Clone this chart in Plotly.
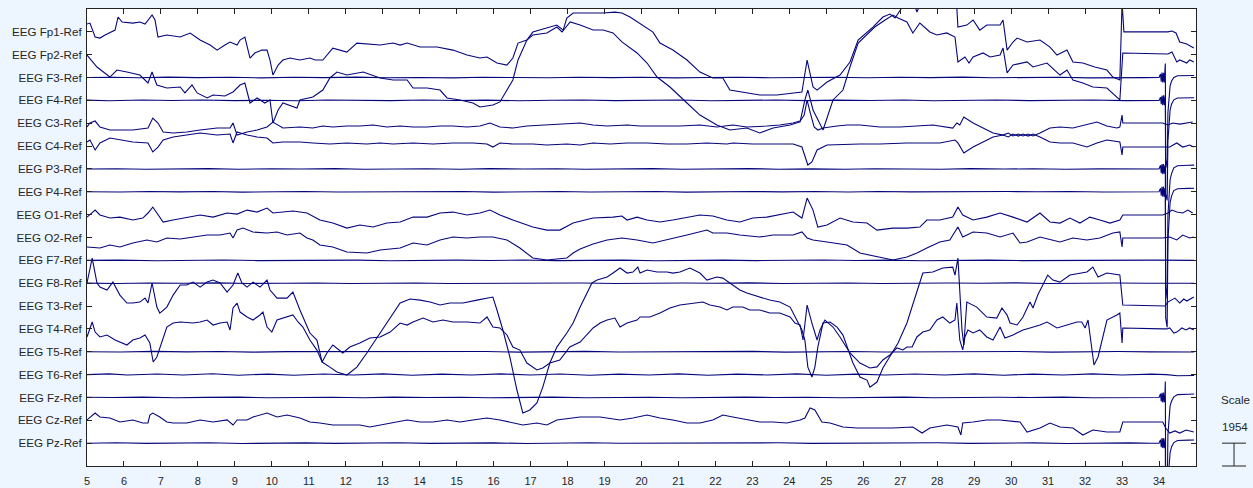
import plotly.graph_objects as go

# ---------------- data ----------------
SCALE = 1954  # microvolts per channel spacing (scale bar)
CHANNELS = ["EEG Fp1-Ref", "EEG Fp2-Ref", "EEG F3-Ref", "EEG F4-Ref", "EEG C3-Ref",
            "EEG C4-Ref", "EEG P3-Ref", "EEG P4-Ref", "EEG O1-Ref", "EEG O2-Ref",
            "EEG F7-Ref", "EEG F8-Ref", "EEG T3-Ref", "EEG T4-Ref", "EEG T5-Ref",
            "EEG T6-Ref", "EEG Fz-Ref", "EEG Cz-Ref", "EEG Pz-Ref"]
X_TICKS = list(range(5, 35))
X_RANGE = [5, 35]

# (time s, amplitude uV) samples
FP1 = [(5.00,670),(5.08,750),(5.22,-440),(5.35,-530),(5.49,-270),(5.68,-20),(5.76,150),(5.84,1270),(5.95,840),(6.24,750),(6.43,840),(6.57,670),(6.65,1010),(6.76,1440),(6.84,1010),(6.92,-440),(7.16,-270),(7.38,-360),(7.52,-440),(7.79,-100),(8.06,-700),(8.33,-1130),(8.52,-1560),(8.73,-1130),(8.87,-870),(9.06,-1130),(9.14,-700),(9.27,-440),(9.41,-2240),(9.54,-1810),(9.73,-1560),(9.87,-1560),(9.95,-2410),(10.03,-3690),(10.17,-2840),(10.30,-2410),(10.49,-2240),(10.76,-2410),(11.03,-2240),(11.17,-2410),(11.38,-2410),(11.65,-1390),(11.84,-1560),(12.03,-1730),(12.30,-960),(12.65,-1040),(12.93,-1130),(13.28,-960),(13.47,-1130),(13.66,-960),(14.01,-1300),(14.47,-1300),(14.90,-1560),(15.28,-1980),(15.63,-2240),(15.82,-2150),(16.09,-2670),(16.36,-2840),(16.52,-2240),(16.66,-960),(16.90,-700),(17.06,-20),(17.44,320),(17.71,580),(17.88,150),(17.98,1180),(18.15,1610),(18.34,1610),(18.61,1610),(18.96,1610),(19.28,1690),(19.47,1610),(19.69,1270),(20.04,580),(20.31,-20),(20.50,-960),(20.85,-1560),(21.23,-2410),(21.58,-3440),(21.93,-3950),(22.20,-3950),(22.39,-4980),(22.74,-5150),(23.20,-5400),(23.66,-5400),(24.10,-5230),(24.34,-5150),(24.48,-2410),(24.64,-4720),(24.75,-4980),(25.02,-4290),(25.37,-3690),(25.64,-2580),(25.86,-700),(26.07,-100),(26.26,410),(26.53,1270),(26.72,1520),(26.86,1180),(26.99,1860),(27.18,2720),(27.32,2980),(27.45,1690),(27.59,2720),(27.94,3570),(28.34,3570),(28.51,3150),(28.56,410),(28.80,580),(28.97,1010),(29.15,150),(29.34,580),(29.70,580),(29.78,1010),(29.89,-1560),(30.05,-870),(30.16,-530),(30.43,-870),(30.78,-700),(31.05,-1300),(31.24,-1980),(31.51,-1560),(31.67,-2580),(31.94,-2670),(32.26,-3010),(32.59,-3270),(32.75,-3860),(32.94,-4120),(33.00,2500),(33.05,0),(34.24,0),(34.35,70),(34.46,-100),(34.56,-870),(34.75,-1040),(34.94,-1390)]

FP2 = [(5.00,-30),(5.27,-1050),(5.62,-1910),(5.81,-1310),(6.08,-1480),(6.43,-1740),(6.65,-2420),(6.76,-1480),(6.89,-2590),(7.16,-2850),(7.52,-2760),(7.65,-3270),(7.84,-2590),(7.98,-3270),(8.25,-3700),(8.41,-3450),(8.73,-3530),(8.95,-3190),(9.14,-2590),(9.27,-2420),(9.41,-4130),(9.60,-3700),(9.81,-4130),(9.95,-3870),(10.03,-5840),(10.17,-4730),(10.30,-4130),(10.57,-4480),(10.68,-4560),(10.76,-3870),(11.11,-3620),(11.38,-3020),(11.57,-1990),(11.76,-1480),(12.03,-1740),(12.47,-1480),(12.74,-1740),(12.93,-1990),(13.28,-2160),(13.66,-2160),(13.82,-2850),(14.20,-2850),(14.55,-3020),(14.74,-3700),(15.09,-3870),(15.44,-4130),(15.63,-4470),(15.98,-4300),(16.17,-4040),(16.36,-3020),(16.52,-2160),(16.66,-450),(16.90,1260),(17.06,1680),(17.44,1860),(17.71,2370),(17.85,1940),(18.07,2800),(18.34,2540),(18.69,2110),(18.96,2110),(19.23,1860),(19.47,1090),(19.88,150),(20.15,-710),(20.42,-1910),(20.77,-2760),(21.23,-4130),(21.58,-5160),(22.04,-6010),(22.39,-6440),(22.85,-6270),(23.20,-6690),(23.56,-6270),(24.02,-6010),(24.29,-5750),(24.42,-3870),(24.50,-3020),(24.64,-4730),(24.91,-6440),(25.18,-3870),(25.45,-3020),(25.64,-1050),(25.86,1000),(26.07,1680),(26.31,2370),(26.59,2970),(26.80,3390),(26.94,3140),(27.18,2800),(27.34,1860),(27.53,2710),(27.80,1940),(27.99,1680),(28.26,1860),(28.48,1510),(28.56,-620),(28.75,-200),(28.86,-710),(28.97,-200),(29.24,150),(29.43,-200),(29.70,-30),(29.78,570),(29.89,-1560),(30.05,-880),(30.43,-620),(30.59,-1050),(30.97,-710),(31.32,-1740),(31.51,-1310),(31.67,-2160),(31.94,-2420),(32.21,-2760),(32.59,-2850),(32.86,-3620),(32.94,-3870),(33.02,150),(34.24,60),(34.35,230),(34.48,-620),(34.56,-450),(34.75,-710),(34.83,-450),(34.94,-620)]

F3 = [(5.0,0),(5.7,30),(6.4,-20),(7.2,40),(8.0,-10),(8.9,30),(9.7,-30),(10.6,20),(11.4,-10),(12.3,40),(13.1,-20),(14.0,10),(14.9,-30),(15.7,30),(16.6,0),(17.5,-20),(18.3,30),(19.2,-10),(20.0,20),(20.9,-30),(21.8,10),(22.6,30),(23.5,-20),(24.4,0),(25.2,30),(26.1,-20),(27.0,20),(27.8,-10),(28.7,40),(29.5,-20),(30.4,10),(31.3,30),(32.1,-30),(33.0,20),(33.6,-10),(34.0,0),(34.04,300),(34.06,-350),(34.08,420),(34.10,-430),(34.12,400),(34.14,-420),(34.16,250),(34.17,1200),(34.18,-7000),(34.22,-7700),(34.24,-3000),(34.27,-1300),(34.30,-700),(34.34,-300),(34.40,0),(34.50,150),(34.65,170),(34.80,150),(34.95,170)]

F4 = [(5.0,20),(5.6,-30),(6.5,30),(7.3,-10),(8.1,40),(9.0,-20),(9.8,10),(10.7,-30),(11.5,30),(12.4,0),(13.2,-20),(14.1,30),(15.0,-10),(15.8,20),(16.7,-30),(17.6,10),(18.4,40),(19.3,-20),(20.1,0),(21.0,30),(21.9,-30),(22.7,10),(23.6,30),(24.5,-20),(25.3,20),(26.2,-10),(27.1,30),(27.9,-30),(28.8,10),(29.6,40),(30.5,-20),(31.4,0),(32.2,30),(33.1,-20),(33.7,20),(34.0,0),(34.04,280),(34.06,-330),(34.08,400),(34.10,-420),(34.12,430),(34.14,-400),(34.16,260),(34.17,450),(34.18,-8000),(34.22,-8550),(34.24,-3500),(34.27,-1600),(34.30,-800),(34.34,-300),(34.40,50),(34.50,200),(34.65,230),(34.80,220),(34.95,230)]

C3 = [(5.00,-320),(5.08,20),(5.22,190),(5.35,-320),(5.62,-580),(6.24,-580),(6.65,-410),(6.78,440),(6.92,20),(7.06,-750),(7.33,-840),(7.70,-750),(8.06,-580),(8.52,-410),(8.87,-410),(8.95,20),(9.06,-1010),(9.33,-750),(9.60,-580),(9.87,-320),(10.03,100),(10.30,-410),(10.76,-320),(11.11,-410),(11.38,-240),(11.65,-320),(12.03,-240),(12.38,-240),(12.74,-150),(13.11,-320),(13.47,-240),(13.82,-320),(14.20,-320),(14.55,-240),(14.90,-240),(15.28,-320),(15.63,-240),(15.90,20),(16.17,-320),(16.52,-410),(16.90,-240),(17.44,-150),(17.98,-70),(18.34,20),(18.69,-150),(19.07,-240),(19.61,-150),(19.96,-240),(20.50,-240),(21.04,-240),(21.58,-150),(22.04,-320),(22.47,-150),(22.85,-320),(23.39,-240),(23.74,-150),(24.10,20),(24.29,190),(24.40,700),(24.48,1980),(24.56,960),(24.67,-320),(24.77,-580),(24.91,-410),(25.29,-240),(25.56,-150),(25.91,-150),(26.45,-320),(26.99,-320),(27.53,-240),(27.88,-150),(28.42,-410),(28.53,20),(28.61,-150),(28.72,530),(28.97,20),(29.24,-410),(29.51,-840),(29.78,-1010),(29.92,-840),(30.05,-1090),(30.19,-920),(30.32,-1090),(30.46,-920),(30.59,-1090),(30.78,-840),(31.05,-410),(31.32,-320),(31.67,-410),(32.05,-150),(32.32,100),(32.59,-240),(32.86,-410),(32.94,-320),(33.00,700),(33.02,20),(34.10,20),(34.24,-150),(34.37,20),(34.56,-70),(34.75,20),(34.91,100)]

C4 = [(5.00,350),(5.08,520),(5.22,-330),(5.35,270),(5.62,690),(6.24,350),(6.65,270),(6.78,-500),(6.92,-80),(7.06,520),(7.33,780),(7.70,950),(8.06,1120),(8.52,950),(8.87,1030),(8.95,270),(9.06,1210),(9.33,950),(9.60,780),(9.87,690),(10.03,270),(10.30,350),(10.76,350),(11.11,270),(11.57,180),(12.03,270),(12.57,180),(12.93,270),(13.28,180),(13.82,270),(14.36,180),(14.90,270),(15.44,270),(15.82,180),(15.98,-80),(16.17,270),(16.52,180),(17.06,180),(17.44,90),(17.98,180),(18.34,90),(18.69,270),(19.15,180),(19.61,270),(20.15,270),(20.69,180),(21.23,180),(21.77,270),(22.31,180),(22.47,270),(23.01,180),(23.56,180),(24.10,180),(24.34,-80),(24.42,-760),(24.50,-1620),(24.61,-1360),(24.75,-330),(25.02,90),(25.56,180),(25.91,180),(26.45,180),(27.18,270),(27.72,270),(28.07,270),(28.48,520),(28.56,270),(28.72,-590),(28.97,-80),(29.24,350),(29.51,780),(29.78,950),(29.92,780),(30.05,1030),(30.19,860),(30.32,1030),(30.46,860),(30.59,1030),(30.78,780),(31.05,350),(31.32,270),(31.67,270),(32.05,-80),(32.32,270),(32.59,520),(32.94,350),(33.00,-760),(33.02,-80),(34.16,-80),(34.29,-80),(34.48,270),(34.64,-80),(34.83,90),(34.94,-80)]

P3 = [(5.0,-10),(5.8,20),(6.6,-30),(7.4,10),(8.3,30),(9.1,-20),(10.0,20),(10.8,-10),(11.7,30),(12.5,-30),(13.4,0),(14.2,20),(15.1,-20),(15.9,30),(16.8,-10),(17.7,20),(18.5,-30),(19.4,10),(20.3,30),(21.1,-20),(22.0,0),(22.9,30),(23.7,-20),(24.6,10),(25.5,-30),(26.3,20),(27.2,0),(28.1,-20),(28.9,30),(29.8,-10),(30.6,20),(31.5,-30),(32.4,10),(33.2,20),(33.8,-10),(34.0,0),(34.04,320),(34.06,-360),(34.08,410),(34.10,-440),(34.12,420),(34.14,-400),(34.16,240),(34.17,350),(34.18,-10000),(34.22,-11100),(34.24,-4000),(34.27,-1800),(34.30,-900),(34.34,-400),(34.40,100),(34.50,280),(34.65,330),(34.80,320),(34.95,330)]

P4 = [(5.0,10),(5.9,-20),(6.7,30),(7.5,-10),(8.4,20),(9.2,-30),(10.1,10),(10.9,30),(11.8,-20),(12.6,0),(13.5,30),(14.3,-10),(15.2,20),(16.0,-30),(16.9,10),(17.8,30),(18.6,-20),(19.5,0),(20.4,20),(21.2,-30),(22.1,10),(23.0,30),(23.8,-10),(24.7,20),(25.6,-20),(26.4,30),(27.3,-10),(28.2,10),(29.0,-30),(29.9,20),(30.7,0),(31.6,30),(32.5,-20),(33.3,10),(33.8,-10),(34.0,0),(34.04,300),(34.06,-340),(34.08,430),(34.10,-410),(34.12,440),(34.14,-420),(34.16,260),(34.17,300),(34.18,-10800),(34.22,-11600),(34.24,-4200),(34.27,-1900),(34.30,-900),(34.34,-350),(34.40,100),(34.50,260),(34.65,300),(34.80,290),(34.95,300)]

O1 = [(5.00,-210),(5.22,390),(5.35,-30),(5.62,-290),(5.89,-210),(6.24,-460),(6.51,-290),(6.65,140),(6.78,650),(6.89,140),(7.06,-630),(7.33,-460),(7.70,-210),(8.06,-30),(8.41,-210),(8.79,140),(9.06,50),(9.33,390),(9.60,220),(9.87,560),(10.03,140),(10.30,220),(10.57,310),(10.95,140),(11.30,-460),(11.65,-720),(12.03,-1150),(12.38,-890),(12.74,-1060),(13.11,-720),(13.47,-630),(13.82,-210),(14.20,-210),(14.55,140),(14.90,220),(15.28,-30),(15.63,140),(15.90,390),(16.17,-30),(16.52,-460),(17.06,-1060),(17.44,-1320),(17.79,-1320),(18.15,-720),(18.69,-290),(19.23,-210),(19.47,-120),(19.61,-460),(19.88,-210),(20.15,-460),(20.50,-630),(20.85,-460),(21.23,-210),(21.58,-30),(21.93,-120),(22.31,-460),(22.66,-630),(23.01,-290),(23.39,-210),(23.74,-30),(24.10,220),(24.34,-290),(24.48,1420),(24.64,390),(24.77,-1060),(25.02,-890),(25.37,-290),(25.72,-630),(26.10,-720),(26.37,-1320),(26.80,-1150),(27.18,-1150),(27.53,-1060),(27.72,-460),(28.07,-460),(28.42,-210),(28.56,650),(28.69,-30),(28.97,-460),(29.34,-210),(29.70,140),(30.05,-210),(30.43,-630),(30.78,140),(31.05,-630),(31.32,-720),(31.59,-290),(31.86,-720),(32.13,-210),(32.40,-460),(32.67,-720),(32.94,-460),(33.02,-30),(34.10,-30),(34.24,140),(34.35,390),(34.48,220),(34.64,140),(34.78,390),(34.91,140)]

O2 = [(5.00,-810),(5.35,-900),(5.62,-640),(5.89,-810),(6.24,-470),(6.62,-210),(6.89,-380),(7.16,-40),(7.52,-130),(7.87,40),(8.25,210),(8.60,210),(8.87,380),(8.95,-40),(9.06,640),(9.22,810),(9.49,470),(9.87,380),(10.14,470),(10.41,210),(10.76,380),(10.95,-40),(11.11,-210),(11.30,-640),(11.65,-810),(12.03,-1240),(12.57,-1330),(12.93,-1070),(13.47,-900),(13.82,-470),(14.20,-640),(14.55,-210),(14.90,40),(15.28,-40),(15.63,40),(15.98,40),(16.36,-210),(16.71,-900),(17.06,-1750),(17.44,-1920),(17.98,-1750),(18.15,-1330),(18.34,-980),(18.69,-560),(19.07,-210),(19.47,-40),(19.88,-210),(20.31,-470),(20.69,-210),(21.23,210),(21.77,640),(21.93,380),(22.31,380),(22.66,210),(23.20,40),(23.56,210),(24.10,210),(24.34,470),(24.48,-40),(24.64,-210),(25.02,-380),(25.56,-640),(25.91,-1330),(26.45,-1670),(26.80,-1920),(27.18,-1670),(27.45,-1330),(27.72,-900),(28.07,-380),(28.34,-210),(28.56,900),(28.69,40),(28.97,470),(29.34,380),(29.70,40),(30.05,380),(30.24,-470),(30.43,-380),(30.78,40),(31.32,-380),(31.67,-40),(32.05,-210),(32.40,-40),(32.75,380),(32.94,470),(33.00,-810),(33.02,-40),(34.10,-40),(34.29,40),(34.48,-210),(34.64,210),(34.83,-40),(34.94,40)]

F7 = [(5.0,0),(5.9,20),(6.9,-30),(7.8,10),(8.7,30),(9.6,-20),(10.5,10),(11.4,-10),(12.3,20),(13.2,-30),(14.1,10),(15.0,20),(15.9,-10),(16.8,30),(17.7,-20),(18.6,0),(19.5,20),(20.4,-30),(21.3,10),(22.2,20),(23.1,-20),(24.0,10),(24.9,30),(25.8,-10),(26.7,20),(27.6,-30),(28.5,10),(29.4,20),(30.3,-20),(31.2,0),(32.1,30),(33.0,-10),(33.9,20),(34.95,0)]

F8 = [(5.0,10),(5.8,-20),(6.7,20),(7.6,-10),(8.5,30),(9.4,-20),(10.3,0),(11.2,20),(12.1,-30),(13.0,10),(13.9,20),(14.8,-20),(15.7,0),(16.6,30),(17.5,-10),(18.4,20),(19.3,-30),(20.2,10),(21.1,20),(22.0,-10),(22.9,30),(23.8,-20),(24.7,0),(25.6,20),(26.5,-30),(27.4,10),(28.3,20),(29.2,-10),(30.1,30),(31.0,-20),(31.9,10),(32.8,20),(33.7,-10),(34.95,0)]

T3 = [(5.00,1970),(5.14,4100),(5.27,1970),(5.35,1620),(5.54,1370),(5.70,2050),(5.89,940),(6.08,260),(6.24,260),(6.43,340),(6.57,680),(6.65,260),(6.76,1970),(6.89,-90),(6.97,-600),(7.16,-90),(7.33,940),(7.52,1800),(7.70,1800),(7.87,2050),(8.06,1620),(8.25,2050),(8.41,2220),(8.60,1970),(8.79,1200),(8.95,1800),(9.08,2820),(9.19,1970),(9.33,1620),(9.49,2050),(9.68,1620),(9.87,2220),(9.95,1370),(10.14,680),(10.41,680),(10.57,1200),(10.76,-340),(11.03,-2310),(11.22,-2910),(11.36,-4790),(11.57,-5220),(11.76,-5640),(12.03,-5900),(12.30,-5220),(12.57,-4020),(12.84,-2740),(13.20,-940),(13.47,260),(13.74,600),(14.01,510),(14.28,340),(14.55,90),(14.82,260),(15.17,260),(15.55,510),(15.82,680),(15.98,770),(16.09,-340),(16.25,-2050),(16.44,-4360),(16.63,-7180),(16.79,-9150),(16.98,-8890),(17.17,-8290),(17.33,-6930),(17.52,-4870),(17.71,-3510),(17.98,-2310),(18.15,-1450),(18.34,-90),(18.52,1110),(18.66,1970),(18.80,2220),(19.07,2480),(19.23,2820),(19.42,3250),(19.61,2820),(19.77,2910),(19.90,3330),(19.96,2820),(20.15,3080),(20.42,2910),(20.69,2910),(20.85,2820),(21.04,2910),(21.31,3250),(21.58,2820),(21.77,2220),(22.04,2480),(22.20,2390),(22.39,1970),(22.66,1370),(22.85,1110),(23.20,770),(23.47,510),(23.74,340),(24.02,-90),(24.20,-1200),(24.34,-2050),(24.42,-2910),(24.50,-5220),(24.61,-6070),(24.69,-5220),(24.77,-3510),(24.91,-1450),(25.10,-1370),(25.29,-1800),(25.45,-2480),(25.56,-3510),(25.72,-4870),(25.91,-6070),(26.10,-6330),(26.18,-6930),(26.37,-6500),(26.53,-5300),(26.72,-4360),(26.94,-3160),(27.18,-1450),(27.32,-90),(27.45,1370),(27.61,2820),(27.88,2910),(28.15,3250),(28.42,3330),(28.48,2650),(28.56,4100),(28.67,-2050),(28.72,-3330),(28.80,340),(29.07,-90),(29.34,-940),(29.61,-1030),(29.75,-170),(29.89,-770),(29.97,-1450),(30.16,-1620),(30.32,-940),(30.51,340),(30.59,-170),(30.72,940),(30.86,1800),(30.99,2650),(31.13,2220),(31.32,2050),(31.59,2650),(31.86,2820),(32.05,2910),(32.21,3330),(32.35,2480),(32.59,2820),(32.94,2650),(33.02,90),(34.16,0),(34.24,340),(34.35,510),(34.43,680),(34.56,260),(34.67,600),(34.75,430),(34.94,770)]

T4 = [(5.00,-690),(5.14,590),(5.22,-270),(5.35,-690),(5.54,-520),(5.76,-950),(6.08,-1380),(6.24,-950),(6.43,-780),(6.57,-520),(6.70,-1210),(6.79,-2830),(6.89,-2400),(7.06,-690),(7.16,160),(7.33,500),(7.52,590),(7.87,500),(8.06,590),(8.25,760),(8.41,330),(8.60,500),(8.79,590),(8.87,-90),(8.95,1790),(9.06,2210),(9.14,1440),(9.33,1020),(9.49,760),(9.68,1190),(9.76,1440),(9.87,160),(10.00,-270),(10.14,760),(10.41,1020),(10.57,1190),(10.71,590),(10.84,160),(11.03,-950),(11.22,-1810),(11.36,-2830),(11.49,-2060),(11.65,-1380),(11.92,-2060),(12.11,-1550),(12.38,-1210),(12.65,-780),(12.93,-690),(13.20,-270),(13.47,500),(13.66,330),(13.82,590),(14.09,930),(14.36,590),(14.63,760),(14.90,590),(15.28,590),(15.63,500),(15.82,1020),(15.98,160),(16.17,80),(16.36,-520),(16.52,-1550),(16.71,-1810),(16.90,-2920),(17.17,-3510),(17.33,-3340),(17.52,-2920),(17.79,-2660),(18.06,-1550),(18.34,-1120),(18.52,-520),(18.69,80),(18.88,500),(19.07,760),(19.28,930),(19.42,160),(19.61,500),(19.88,760),(19.96,1020),(20.23,1020),(20.50,1360),(20.77,1790),(21.04,2040),(21.39,2210),(21.66,2300),(21.85,2040),(22.12,1870),(22.31,1620),(22.47,1870),(22.74,1870),(22.93,1620),(23.20,1620),(23.47,1360),(23.74,1360),(24.02,1020),(24.15,500),(24.29,330),(24.37,-950),(24.48,2040),(24.61,500),(24.75,-950),(24.83,-90),(24.96,760),(25.18,160),(25.37,-690),(25.64,-2060),(25.91,-2920),(26.18,-3340),(26.37,-3250),(26.53,-2660),(26.72,-2230),(26.91,-1630),(27.07,-1800),(27.18,-1550),(27.32,-1550),(27.45,-690),(27.61,-270),(27.80,-90),(27.99,760),(28.15,1020),(28.34,500),(28.48,760),(28.53,2210),(28.61,-950),(28.69,-1800),(28.75,-690),(28.83,-90),(28.97,-350),(29.15,-90),(29.34,-690),(29.51,-950),(29.70,160),(29.83,-780),(30.05,-520),(30.32,-90),(30.51,80),(30.78,330),(30.97,590),(31.24,80),(31.51,330),(31.78,590),(31.91,590),(32.00,80),(32.08,760),(32.18,-1550),(32.24,-3090),(32.35,-2400),(32.48,-690),(32.59,760),(32.86,1190),(32.94,1360),(33.00,-1210),(33.02,80),(34.10,0),(34.21,0),(34.29,80),(34.40,-350),(34.48,-270),(34.62,80),(34.73,-90),(34.83,80),(34.94,-90)]

T5 = [(5.0,0),(5.9,-20),(6.8,30),(7.7,-10),(8.6,20),(9.5,-30),(10.4,10),(11.3,20),(12.2,-20),(13.1,30),(14.0,-10),(14.9,0),(15.8,20),(16.7,-30),(17.6,10),(18.5,30),(19.4,-20),(20.3,0),(21.2,20),(22.1,-10),(23.0,30),(23.9,-30),(24.8,10),(25.7,20),(26.6,-20),(27.5,0),(28.4,30),(29.3,-10),(30.2,20),(31.1,-30),(32.0,10),(32.9,20),(33.8,-10),(34.95,-20)]

T6 = [(5.0,0),(5.6,60),(6.1,-40),(6.9,50),(7.6,-30),(8.4,70),(9.1,-50),(9.9,40),(10.6,-60),(11.4,50),(12.2,-30),(13.0,60),(13.8,-50),(14.6,40),(15.4,-40),(16.2,60),(17.0,-30),(17.8,50),(18.6,-60),(19.4,40),(20.2,-40),(21.0,60),(21.8,-50),(22.6,40),(23.4,-30),(24.2,60),(25.0,-50),(25.8,40),(26.6,-40),(27.4,50),(28.2,-30),(29.0,60),(29.8,-50),(30.6,40),(31.4,-40),(32.2,60),(33.0,-30),(33.8,40),(34.2,0),(34.5,-100),(34.95,-80)]

FZ = [(5.0,20),(5.7,-10),(6.5,30),(7.4,-20),(8.2,10),(9.1,30),(9.9,-30),(10.8,0),(11.6,20),(12.5,-20),(13.3,30),(14.2,-10),(15.1,20),(15.9,-30),(16.8,10),(17.6,30),(18.5,-20),(19.3,0),(20.2,20),(21.1,-30),(21.9,10),(22.8,30),(23.6,-10),(24.5,20),(25.4,-20),(26.2,0),(27.1,30),(27.9,-30),(28.8,10),(29.7,20),(30.5,-10),(31.4,30),(32.2,-20),(33.1,10),(33.7,-10),(34.0,0),(34.04,310),(34.06,-340),(34.08,400),(34.10,-430),(34.12,420),(34.14,-410),(34.16,250),(34.17,1370),(34.18,-8000),(34.22,-8550),(34.24,-3200),(34.27,-1400),(34.30,-700),(34.34,-300),(34.40,50),(34.50,240),(34.65,290),(34.80,280),(34.95,290)]

CZ = [(5.00,30),(5.22,620),(5.35,280),(5.62,200),(5.89,-150),(6.24,30),(6.51,-230),(6.65,-230),(6.70,450),(6.78,620),(6.97,280),(7.16,-150),(7.33,-230),(7.70,-230),(8.06,30),(8.41,-150),(8.79,30),(8.95,-400),(9.06,30),(9.33,30),(9.49,280),(9.87,620),(10.14,280),(10.41,450),(10.76,200),(11.03,-150),(11.30,-230),(11.65,-400),(12.03,-400),(12.38,-400),(12.65,-570),(12.93,-400),(13.28,-150),(13.66,30),(14.01,-150),(14.36,-150),(14.74,30),(15.09,-150),(15.44,30),(15.82,200),(16.17,30),(16.52,-230),(16.79,-400),(17.17,-230),(17.44,-400),(17.71,30),(18.06,200),(18.34,280),(18.88,280),(19.42,30),(19.77,200),(20.15,450),(20.50,200),(20.85,30),(21.23,-230),(21.58,-230),(21.93,30),(22.20,450),(22.47,280),(22.85,30),(23.20,-150),(23.56,-150),(23.93,-230),(24.29,30),(24.42,200),(24.56,1050),(24.69,880),(24.88,-150),(25.10,-230),(25.45,-570),(25.83,-660),(26.26,-660),(26.80,-660),(27.34,-570),(27.59,-1090),(27.80,-660),(28.26,-400),(28.56,-570),(28.64,-1260),(28.69,-230),(28.97,-150),(29.34,30),(29.70,30),(30.24,-150),(30.43,-1000),(30.78,-660),(31.05,-230),(31.32,-570),(31.67,-660),(31.94,-1260),(32.21,-830),(32.59,-1000),(32.94,-1000),(33.02,-150),(34.10,-150),(34.18,-660),(34.29,-1090),(34.43,-910),(34.56,-1090),(34.73,-830),(34.94,-1000)]

PZ = [(5.0,-10),(5.8,30),(6.6,-20),(7.5,10),(8.3,30),(9.2,-30),(10.0,10),(10.9,20),(11.7,-20),(12.6,0),(13.4,30),(14.3,-20),(15.2,10),(16.0,20),(16.9,-30),(17.7,10),(18.6,30),(19.4,-10),(20.3,0),(21.2,20),(22.0,-30),(22.9,10),(23.7,30),(24.6,-20),(25.5,0),(26.3,20),(27.2,-10),(28.0,30),(28.9,-20),(29.8,10),(30.6,20),(31.5,-30),(32.3,0),(33.2,20),(33.8,-10),(34.0,0),(34.04,290),(34.06,-350),(34.08,430),(34.10,-420),(34.12,410),(34.14,-430),(34.16,240),(34.17,430),(34.18,-8000),(34.22,-8550),(34.24,-3300),(34.27,-1500),(34.30,-800),(34.34,-300),(34.40,50),(34.50,230),(34.65,270),(34.80,260),(34.95,270)]

SERIES = [FP1, FP2, F3, F4, C3, C4, P3, P4, O1, O2, F7, F8, T3, T4, T5, T6, FZ, CZ, PZ]

# ---------------- figure ----------------
N = len(CHANNELS)
Y_MAX = (N + 1) * SCALE
LINE_COLOR = "#06067c"
TEXT_COLOR = "#262626"
FONT = "Liberation Sans, Arial, Helvetica, sans-serif"

fig = go.Figure()
for i, (name, pts) in enumerate(zip(CHANNELS, SERIES)):
    offset = (N - i) * SCALE
    fig.add_trace(go.Scatter(
        x=[p[0] for p in pts],
        y=[offset + p[1] for p in pts],
        mode="lines",
        line=dict(color=LINE_COLOR, width=1.1),
        name=name,
        showlegend=False,
        hoverinfo="skip",
    ))

fig.update_layout(
    width=1253, height=488,
    margin=dict(l=87, r=57, t=9, b=22, autoexpand=False),
    paper_bgcolor="rgb(237,245,255)",
    plot_bgcolor="white",
    font=dict(family=FONT, size=11, color=TEXT_COLOR),
    xaxis=dict(
        range=X_RANGE, tickvals=X_TICKS, ticktext=[str(v) for v in X_TICKS],
        ticks="inside", ticklen=5, tickcolor="#222", tickwidth=1,
        showline=True, linecolor="#222", linewidth=1, mirror="ticks",
        showgrid=False, zeroline=False, tickfont=dict(size=11, color=TEXT_COLOR),
        ticklabelstandoff=5, automargin=False,
    ),
    yaxis=dict(
        range=[0, Y_MAX],
        tickvals=[(N - i) * SCALE for i in range(N)],
        ticktext=CHANNELS,
        ticks="inside", ticklen=5, tickcolor="#222", tickwidth=1,
        showline=True, linecolor="#222", linewidth=1, mirror="ticks",
        showgrid=False, zeroline=False, tickfont=dict(size=11.6, color=TEXT_COLOR),
        ticklabelstandoff=2, automargin=False,
    ),
)

# scale legend on the right (bar height = one channel spacing = SCALE uV)
bar_top = SCALE / Y_MAX
bar_x = 1.0343
cap = 0.0108
fig.add_shape(type="line", xref="paper", yref="paper", x0=bar_x, x1=bar_x, y0=0, y1=bar_top,
              line=dict(color="#222", width=1))
for yy in (0, bar_top):
    fig.add_shape(type="line", xref="paper", yref="paper", x0=bar_x - cap, x1=bar_x + cap,
                  y0=yy, y1=yy, line=dict(color="#222", width=1))
fig.add_annotation(xref="paper", yref="paper", x=bar_x + 0.001, y=bar_top * 1.75,
                   xanchor="center", yanchor="middle",
                   text=str(SCALE), showarrow=False, font=dict(size=11.6, color=TEXT_COLOR))
fig.add_annotation(xref="paper", yref="paper", x=bar_x + 0.001, y=bar_top * 2.9,
                   xanchor="center", yanchor="middle",
                   text="Scale", showarrow=False, font=dict(size=11.6, color=TEXT_COLOR))

fig.write_html("out.html")
